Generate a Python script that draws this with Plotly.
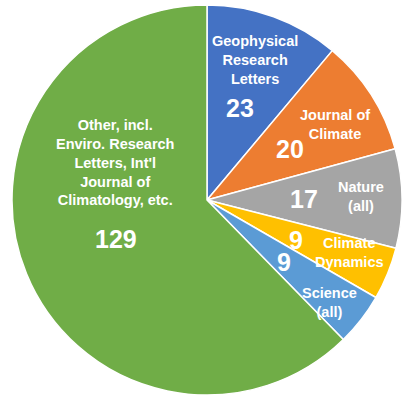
import math
import plotly.graph_objects as go

journals = ["Geophysical<br>Research<br>Letters", "Journal of<br>Climate", "Nature<br>(all)",
            "Climate<br>Dynamics", "Science<br>(all)",
            "Other, incl.<br>Enviro. Research<br>Letters, Int'l<br>Journal of<br>Climatology, etc."]
counts = [23, 20, 17, 9, 9, 129]
colors = ["#4472C4", "#ED7D31", "#A5A5A5", "#FFC000", "#5B9BD5", "#70AD47"]

W, H = 402, 400
dom_x = [12 / W, 1.0]
cx = (dom_x[0] + dom_x[1]) / 2 * W
cy = H / 2
R = min((dom_x[1] - dom_x[0]) * W, H) / 2

fig = go.Figure(go.Pie(
    labels=[j.replace("<br>", " ") for j in journals], values=counts,
    marker=dict(colors=colors, line=dict(color="white", width=1.5)),
    sort=False, direction="clockwise", rotation=0,
    textinfo="none", hoverinfo="label+value", showlegend=False,
    domain=dict(x=dom_x, y=[0, 1]),
))

total = sum(counts)
# label placement style: (name radius frac, name angle shift deg, number radius frac, number angle shift)
place = [(0.76, -1, 0.50, 0), (0.76, 2, 0.50, 1), (0.79, -1, 0.50, 0),
         (0.78, -2, 0.50, 2), (0.82, 2, 0.51, 1), (0.51, 44.6, 0.51, -1)]

def to_paper(r, ang):
    a = math.radians(ang)
    px = cx + r * math.sin(a)
    py = cy - r * math.cos(a)
    return px / W, 1 - py / H

cum = 0
annots = []
for name, v, (rn, an, rv, av) in zip(journals, counts, place):
    mid = (cum + v / 2) / total * 360
    cum += v
    x, y = to_paper(rn * R, mid + an)
    annots.append(dict(x=x, y=y, xref="paper", yref="paper", xanchor="center", yanchor="middle",
                       text="<b>%s</b>" % name, showarrow=False,
                       font=dict(family="Liberation Sans, Arial", size=14.5, color="white")))
    x, y = to_paper(rv * R, mid + av)
    annots.append(dict(x=x, y=y, xref="paper", yref="paper", xanchor="center", yanchor="middle",
                       text="<b>%d</b>" % v, showarrow=False,
                       font=dict(family="Liberation Sans, Arial", size=25, color="white")))

fig.update_layout(width=W, height=H, margin=dict(l=0, r=0, t=0, b=0),
                  paper_bgcolor="white", annotations=annots)
fig.write_html("out.html", config={"displayModeBar": False},
               post_script="document.body.style.margin='0';document.body.style.overflow='hidden';")
